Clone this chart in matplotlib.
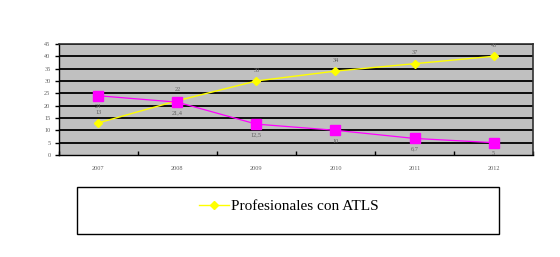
import matplotlib
matplotlib.use('Agg')
from matplotlib import pyplot as plt
from matplotlib.patches import Rectangle

years = ['2007', '2008', '2009', '2010', '2011', '2012']
con_atls = [13, 22, 30, 34, 37, 40]
con_atls_labels = ['13', '22', '30', '34', '37', '40']
sin_atls = [24, 21.4, 12.5, 10, 6.7, 5]
sin_atls_labels = ['24', '21,4', '12,5', '10', '6,7', '5']

plt.rcParams['font.family'] = ['Liberation Serif', 'DejaVu Serif']

fig = plt.figure(figsize=(5.6, 2.57), dpi=100)
ax = fig.add_axes([0.105, 0.397, 0.847, 0.432])
ax.set_facecolor('#c0c0c0')

x = list(range(len(years)))
ax.set_xlim(-0.5, len(years) - 0.5)
ax.set_ylim(0, 45)
ax.set_yticks(range(0, 46, 5))
for v in range(5, 46, 5):
    ax.axhline(v, color='black', lw=1.3, zorder=1)

line_con, = ax.plot(x, con_atls, color='#ffff00', lw=1, marker='D', ms=4.5,
                    zorder=3, label='Profesionales con ATLS')
ax.plot(x, sin_atls, color='#ff00ff', lw=0.9, marker='s', ms=6.5, zorder=3)

for xi, v, t in zip(x, con_atls, con_atls_labels):
    ax.annotate(t, (xi, v), xytext=(0, 6), textcoords='offset points',
                ha='center', va='bottom', fontsize=4.5, color='#606060')
for xi, v, t in zip(x, sin_atls, sin_atls_labels):
    ax.annotate(t, (xi, v), xytext=(0, -6), textcoords='offset points',
                ha='center', va='top', fontsize=4.5, color='#606060')

ax.set_xticks(x)
ax.set_xticklabels(years)
ax.set_xticks([i - 0.5 for i in x] + [len(years) - 0.5], minor=True)
ax.tick_params(axis='x', which='major', length=0, pad=8, labelsize=4.5,
               labelcolor='#606060')
ax.tick_params(axis='x', which='minor', length=3, width=1, direction='in')
ax.tick_params(axis='y', length=3, width=1, labelsize=4.5, labelcolor='#606060', pad=3)

for side in ['left', 'bottom']:
    ax.spines[side].set_color('black')
    ax.spines[side].set_linewidth(1)
for side in ['top', 'right']:
    ax.spines[side].set_color('#303030')
    ax.spines[side].set_linewidth(1.2)

box = Rectangle((0.1375, 0.0895), 0.754, 0.183, transform=fig.transFigure,
                facecolor='white', edgecolor='black', lw=1)
fig.patches.append(box)
fig.legend(handles=[line_con], loc='upper center', bbox_to_anchor=(0.515, 0.277),
           frameon=False, fontsize=11, handlelength=2.0, handletextpad=0.1)

fig.savefig('out.png', dpi=100)
